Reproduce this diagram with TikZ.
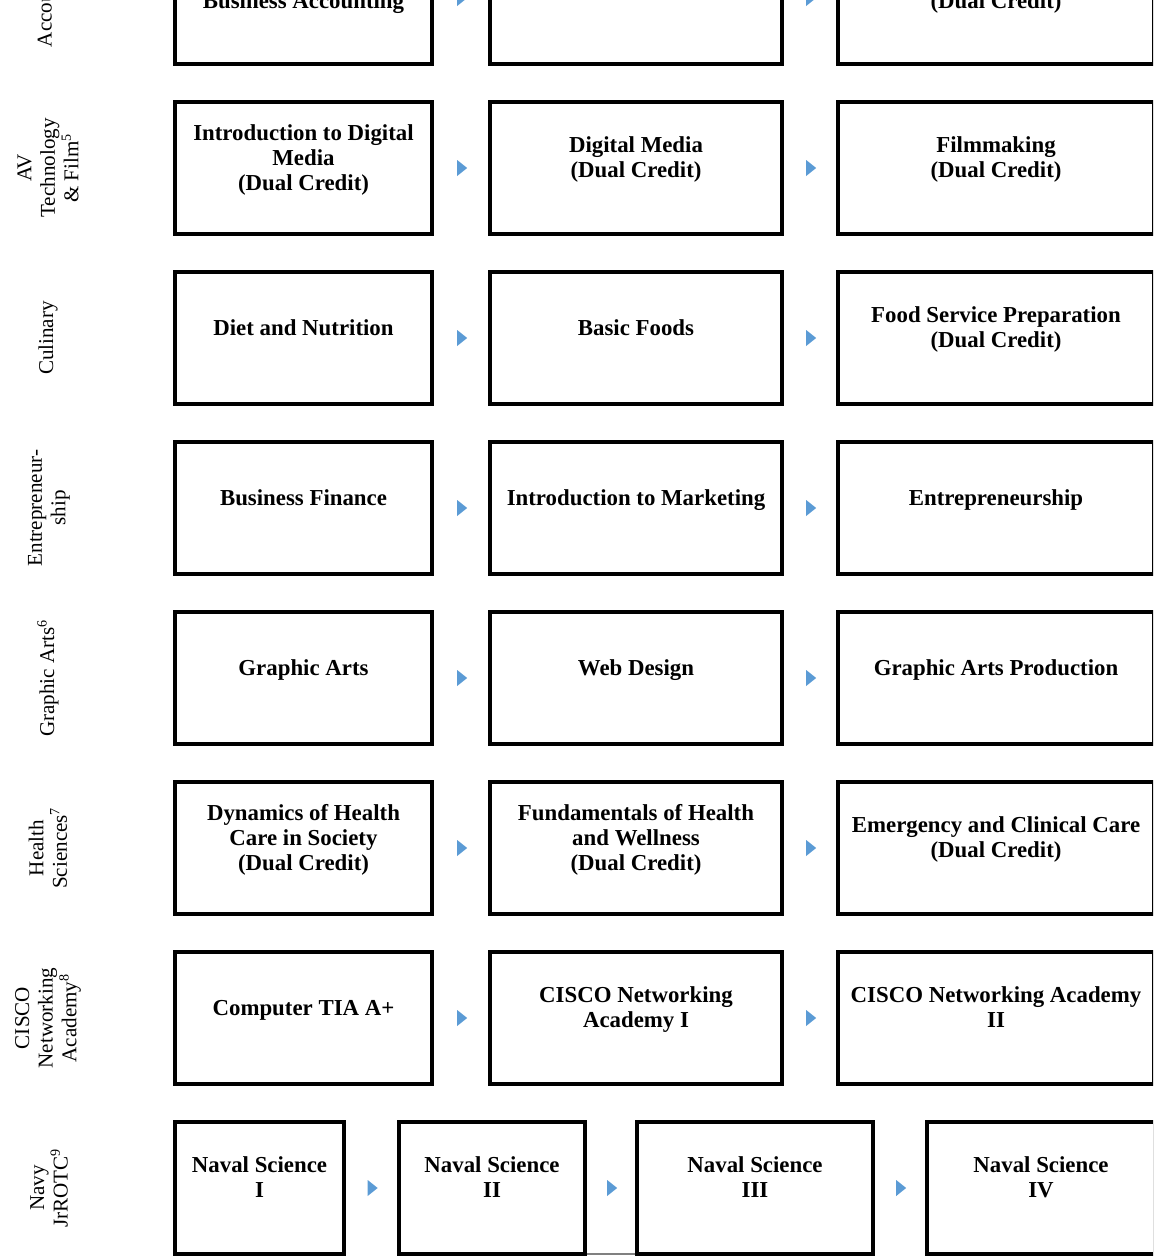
\documentclass[tikz,border=0pt]{standalone}
\usepackage{fontspec}
\setmainfont{Liberation Serif}
\usetikzlibrary{shapes.geometric}
\definecolor{arrowblue}{RGB}{91,155,213}

\begin{document}
\begin{tikzpicture}[
        course/.style={rectangle,draw,line width=2.2pt,minimum height=2.64cm,inner sep=2pt,align=center,
            text depth=0.42cm,font=\fontsize{13}{14.2}\selectfont\bfseries},
        track/.style={rotate=90,align=center,font=\fontsize{12}{13.4}\selectfont},
        pointer/.style={isosceles triangle,isosceles triangle stretches,fill=arrowblue,draw=none,
            inner sep=0pt,minimum width=0.32cm,minimum height=0.2cm}]

    \useasboundingbox (0,0) rectangle (23.06,-25.2);
    \clip (0,0) rectangle (23.06,-25.2);

    % Pathway labels
    \node[track] (t0) at (0.94,0.04) {Accounting};
    \node[track] (t1) at (0.96,-3.36) {AV\\Technology\\\& Film\textsuperscript{5}};
    \node[track] (t2) at (0.96,-6.76) {Culinary};
    \node[track] (t3) at (0.98,-10.16) {Entrepreneur-\\ship};
    \node[track] (t4) at (0.96,-13.56) {Graphic Arts\textsuperscript{6}};
    \node[track] (t5) at (0.96,-16.96) {Health\\Sciences\textsuperscript{7}};
    \node[track] (t6) at (0.96,-20.36) {CISCO\\Networking\\Academy\textsuperscript{8}};
    \node[track] (t7) at (0.98,-23.76) {Navy\\JrROTC\textsuperscript{9}};

    % Accounting
    \node[course,minimum width=5.14cm] (a1) at (6.07,0.04) {\strut\\Business Accounting};
    \node[course,minimum width=5.84cm] (a2) at (12.72,0.04) {};
    \node[course,minimum width=6.32cm] (a3) at (19.92,0.04) {\strut\\(Dual Credit)};

    % AV Technology & Film
    \node[course,minimum width=5.14cm] (av1) at (6.07,-3.36) {Introduction to Digital\\Media\\(Dual Credit)};
    \node[course,minimum width=5.84cm] (av2) at (12.72,-3.36) {Digital Media\\(Dual Credit)};
    \node[course,minimum width=6.32cm] (av3) at (19.92,-3.36) {Filmmaking\\(Dual Credit)};

    % Culinary
    \node[course,minimum width=5.14cm] (c1) at (6.07,-6.76) {Diet and Nutrition};
    \node[course,minimum width=5.84cm] (c2) at (12.72,-6.76) {Basic Foods};
    \node[course,minimum width=6.32cm] (c3) at (19.92,-6.76) {Food Service Preparation\\(Dual Credit)};

    % Entrepreneurship
    \node[course,minimum width=5.14cm] (e1) at (6.07,-10.16) {Business Finance};
    \node[course,minimum width=5.84cm] (e2) at (12.72,-10.16) {Introduction to Marketing};
    \node[course,minimum width=6.32cm] (e3) at (19.92,-10.16) {Entrepreneurship};

    % Graphic Arts
    \node[course,minimum width=5.14cm] (g1) at (6.07,-13.56) {Graphic Arts};
    \node[course,minimum width=5.84cm] (g2) at (12.72,-13.56) {Web Design};
    \node[course,minimum width=6.32cm] (g3) at (19.92,-13.56) {Graphic Arts Production};

    % Health Sciences
    \node[course,minimum width=5.14cm] (h1) at (6.07,-16.96) {Dynamics of Health\\Care in Society\\(Dual Credit)};
    \node[course,minimum width=5.84cm] (h2) at (12.72,-16.96) {Fundamentals of Health\\and Wellness\\(Dual Credit)};
    \node[course,minimum width=6.32cm] (h3) at (19.92,-16.96) {Emergency and Clinical Care\\(Dual Credit)};

    % CISCO Networking Academy
    \node[course,minimum width=5.14cm] (n1) at (6.07,-20.36) {Computer TIA A+};
    \node[course,minimum width=5.84cm] (n2) at (12.72,-20.36) {CISCO Networking\\Academy I};
    \node[course,minimum width=6.32cm] (n3) at (19.92,-20.36) {CISCO Networking Academy\\II};

    % Navy JrROTC
    \node[course,minimum width=3.38cm] (s1) at (5.19,-23.76) {Naval Science\\I};
    \node[course,minimum width=3.72cm] (s2) at (9.84,-23.76) {Naval Science\\II};
    \node[course,minimum width=4.72cm] (s3) at (15.1,-23.76) {Naval Science\\III};
    \node[course,minimum width=4.56cm] (s4) at (20.82,-23.76) {Naval Science\\IV};

    % Arrows
    \path (a1) -- node[pointer] {} (a2);
    \path (a2) -- node[pointer] {} (a3);
    \path (av1) -- node[pointer] {} (av2);
    \path (av2) -- node[pointer] {} (av3);
    \path (c1) -- node[pointer] {} (c2);
    \path (c2) -- node[pointer] {} (c3);
    \path (e1) -- node[pointer] {} (e2);
    \path (e2) -- node[pointer] {} (e3);
    \path (g1) -- node[pointer] {} (g2);
    \path (g2) -- node[pointer] {} (g3);
    \path (h1) -- node[pointer] {} (h2);
    \path (h2) -- node[pointer] {} (h3);
    \path (n1) -- node[pointer] {} (n2);
    \path (n2) -- node[pointer] {} (n3);
    \path (s1) -- node[pointer] {} (s2);
    \path (s2) -- node[pointer] {} (s3);
    \path (s3) -- node[pointer] {} (s4);

    \draw[line width=0.6pt,gray] ([yshift=1.1pt]s2.south east) -- ([yshift=1.1pt]s3.south west);

\end{tikzpicture}
\end{document}
